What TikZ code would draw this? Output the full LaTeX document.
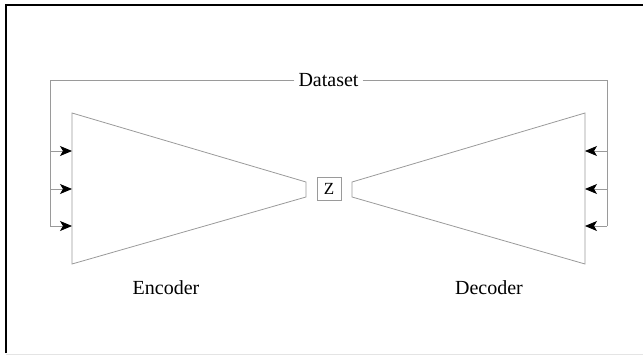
\documentclass[tikz,border=0pt]{standalone}
\usepackage{fontspec}
\setmainfont{Liberation Serif}
\usetikzlibrary{arrows.meta,positioning}
\definecolor{wire}{HTML}{9A9A9A}
\definecolor{frameline}{HTML}{E4E4E4}

\begin{document}
\begin{tikzpicture}[x=1pt,y=-1pt,>={Stealth[length=12pt,width=10pt,inset=3pt,black]}]
  \tikzstyle{net}=[draw=wire,line width=0.8pt]
  \tikzstyle{feed}=[->,draw=wire,line width=0.8pt]
  \tikzstyle{label}=[font=\fontsize{20}{24}\selectfont,inner sep=0pt]
  \useasboundingbox (0,0) rectangle (643,356);
  % frame
  \draw[line width=1.5pt] (6,353) -- (6,5) -- (643,5);
  \draw[frameline,line width=1pt] (6,354.5) -- (643,354.5);
  % encoder and decoder
  \draw[net] (72,113) coordinate (encTL) -- (306,182) coordinate (encTR)
    -- (306,197) coordinate (encBR) -- (72,264) coordinate (encBL) -- cycle;
  \draw[net] (352,182) coordinate (decTL) -- (585,113) coordinate (decTR)
    -- (585,264) coordinate (decBR) -- (352,197) coordinate (decBL) -- cycle;
  \node[draw=wire,line width=0.8pt,minimum width=24pt,minimum height=23pt,inner sep=0pt,
    font=\fontsize{17}{20}\selectfont] (z) at (329,188.5) {Z};
  \node[label] (enc) at (166,288) {Encoder};
  \node[label] (dec) at (489,288) {Decoder};
  % dataset feed
  \node[label,inner xsep=4pt] (data) at (328.5,80) {Dataset};
  \coordinate (busL) at (50,80);
  \coordinate (busR) at (607,80);
  \draw[net] (data.west) -- (busL) -- (50,226);
  \draw[net] (data.east) -- (busR) -- (607,226);
  \foreach \i/\y in {1/151,2/189,3/226}{
    \coordinate (inL\i) at (50,\y);
    \coordinate (inR\i) at (607,\y);
    \draw[feed] (inL\i) -- (72,\y);
    \draw[feed] (inR\i) -- (585,\y);
  }
\end{tikzpicture}
\end{document}
